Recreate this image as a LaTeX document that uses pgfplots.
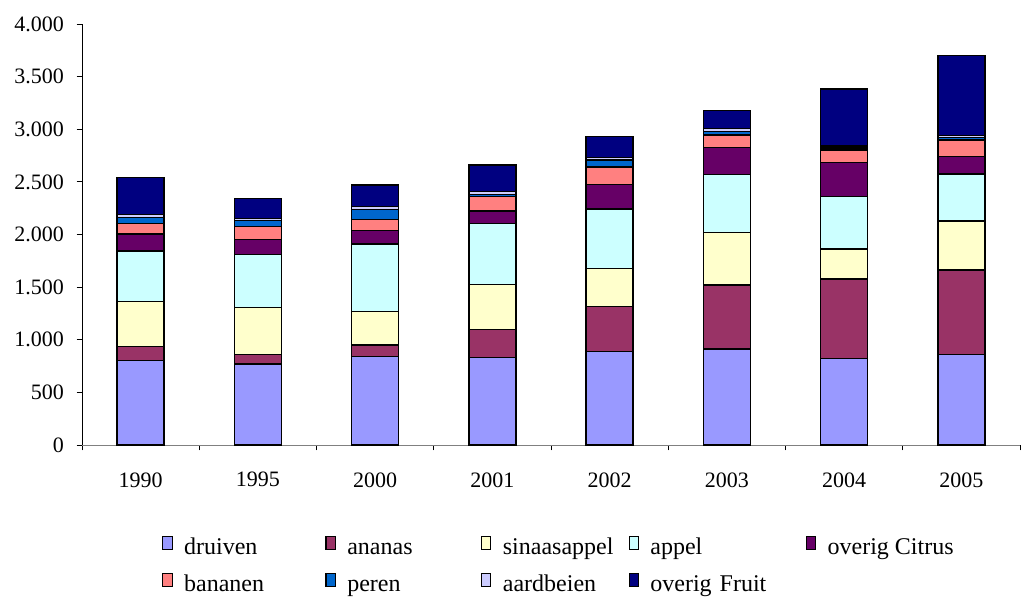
\documentclass[border=0pt]{standalone}
\usepackage{pgfplots}
\pgfplotsset{compat=1.18}
\usepackage{fontspec}
\setmainfont{Liberation Serif}
\definecolor{cDru}{HTML}{9999FF}
\definecolor{cAna}{HTML}{993366}
\definecolor{cSin}{HTML}{FFFFCC}
\definecolor{cApp}{HTML}{CCFFFF}
\definecolor{cCit}{HTML}{660066}
\definecolor{cBan}{HTML}{FF8080}
\definecolor{cPer}{HTML}{0066CC}
\definecolor{cAar}{HTML}{CCCCFF}
\definecolor{cFru}{HTML}{000080}
\begin{document}
\begin{tikzpicture}
\begin{axis}[
  name=ax,
  scale only axis,
  width=703.5pt, height=315.75pt,
  ybar stacked, bar width=35.25pt,
  xmin=-0.5, xmax=7.5, ymin=0, ymax=4000,
  axis x line*=bottom, axis y line*=left,
  axis line style={black, line width=0.6pt},
  x axis line style={gray},
  xtick={0,...,7},
  xticklabels={1990,1995,2000,2001,2002,2003,2004,2005},
  minor xtick={-0.5,0.5,...,7.5},
  major x tick style={draw=none},
  ytick={0,500,...,4000},
  tick align=outside,
  major tick length=4pt, minor tick length=4pt,
  tick style={black, line width=0.6pt},
  /pgf/number format/.cd, 1000 sep={.}, assume math mode=true,
  /pgfplots/.cd,
  ticklabel style={font=\fontsize{16.5}{19}\selectfont},
  xticklabel style={yshift=-13pt},
  yticklabel style={xshift=-6pt},
  every axis plot/.append style={draw=black, line width=1pt},
  legend columns=5,
  legend cell align=left,
  legend style={at={(0,0)}, anchor=north west, xshift=60pt, yshift=-67pt,
    draw=none, inner sep=0pt, font=\fontsize{18}{21}\selectfont,
    column sep=0pt, row sep=7pt, nodes={inner sep=2pt, text height=13pt, text depth=4pt}},
  legend image code/.code={\draw[#1, line width=0.8pt] (0pt,-0.5pt) rectangle (7pt,9pt);
     \path[draw=none, fill=none] (0pt,0pt) -- (14pt,0pt);},
]
\addplot[fill=cDru] coordinates {(0,801) (1,770) (2,839) (3,831) (4,888) (5,912) (6,824) (7,862)};
\addlegendentry[text width=104pt]{druiven}
\addplot[fill=cAna] coordinates {(0,133) (1,92) (2,111) (3,269) (4,428) (5,608) (6,753) (7,801)};
\addlegendentry[text width=98.25pt]{ananas}
\addplot[fill=cSin] coordinates {(0,428) (1,447) (2,317) (3,428) (4,361) (5,500) (6,285) (7,466)};
\addlegendentry[text width=92.25pt]{sinaasappel}
\addplot[fill=cApp] coordinates {(0,482) (1,499) (2,643) (3,576) (4,564) (5,551) (6,497) (7,447)};
\addlegendentry[text width=114.5pt]{appel}
\addplot[fill=cCit] coordinates {(0,162) (1,143) (2,128) (3,120) (4,235) (5,253) (6,323) (7,164)};
\addlegendentry{overig Citrus}
\addplot[fill=cBan] coordinates {(0,101) (1,127) (2,103) (3,138) (4,164) (5,120) (6,120) (7,159)};
\addlegendentry[text width=104pt]{bananen}
\addplot[fill=cPer] coordinates {(0,57) (1,57) (2,95) (3,19) (4,69) (5,35) (6,19) (7,22)};
\addlegendentry[text width=98.25pt]{peren}
\addplot[fill=cAar] coordinates {(0,28) (1,19) (2,28) (3,28) (4,25) (5,25) (6,19) (7,19)};
\addlegendentry[text width=92.25pt]{aardbeien}
\addplot[fill=cFru] coordinates {(0,352) (1,190) (2,206) (3,250) (4,197) (5,174) (6,541) (7,760)};
\addlegendentry[text width=114.5pt]{overig Fruit}
\end{axis}
\pgfresetboundingbox
\path ([xshift=-61.5pt,yshift=-113.25pt]ax.south west) rectangle ([xshift=2.25pt,yshift=18pt]ax.north east);
\end{tikzpicture}
\end{document}
